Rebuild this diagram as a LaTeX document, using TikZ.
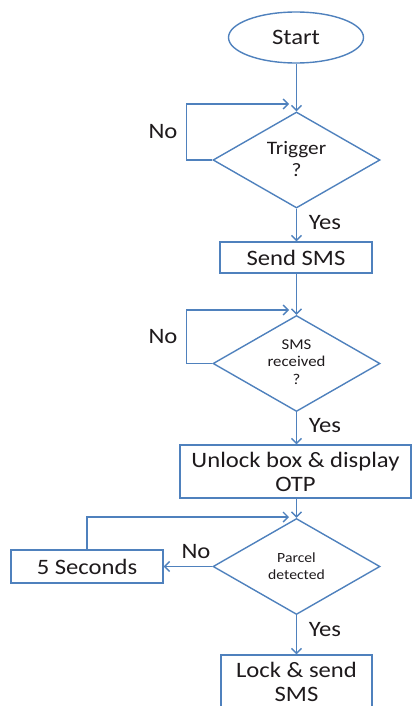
\documentclass[tikz,border=0pt]{standalone}
\usepackage{fontspec}
\setmainfont{Carlito}[FakeStretch=1.12]
\usetikzlibrary{shapes.geometric,arrows.meta}
\definecolor{flowblue}{RGB}{79,129,189}
\definecolor{ink}{RGB}{30,26,28}
\tikzset{
  every node/.style={text=ink},
  term/.style={draw=flowblue,line width=1.4pt,ellipse,minimum width=135pt,minimum height=51pt,inner sep=0pt,
    font=\fontsize{22}{24}\selectfont},
  proc/.style={draw=flowblue,line width=1.4pt,rectangle,inner sep=0pt,align=center,
    font=\fontsize{22}{24}\selectfont},
  dec/.style={draw=flowblue,line width=1.4pt,diamond,minimum width=167pt,minimum height=96pt,inner sep=0pt},
  dtext/.style={align=center,inner sep=0pt},
  lbl/.style={inner sep=0pt,font=\fontsize{22}{24}\selectfont},
  conn/.style={draw=flowblue,line width=1.4pt,-{Straight Barb[length=5pt,width=10pt]}},
}
\begin{document}
\begin{tikzpicture}[x=1pt,y=-1pt]
\useasboundingbox (0,0) rectangle (412,706);
\clip (0,0) rectangle (412,706);

% main column
\node[term] (start) at (296,37.5) {Start};
\node[dec] (d1) at (296.5,160) {};
\node[dtext,font=\fontsize{19}{22}\selectfont] (t1) at (296.5,159) {Trigger\\?};
\node[proc,minimum width=152pt,minimum height=31pt] (sms) at (296,257.5) {Send SMS};
\node[dec] (d2) at (296.5,363.5) {};
\node[dtext,font=\fontsize{15}{17.5}\selectfont] (t2) at (296.5,362) {SMS\\received\\?};
\node[proc,minimum width=231pt,minimum height=53pt] (unlock) at (295.5,471.5) {Unlock box \& display\\OTP};
\node[dec] (d3) at (296.5,566.5) {};
\node[dtext,font=\fontsize{14}{17}\selectfont] (t3) at (296.5,566) {Parcel\\detected};
\node[proc,minimum width=152pt,minimum height=33pt] (wait) at (87,566.5) {5 Seconds};
\node[proc,minimum width=151pt,minimum height=54pt] (lock) at (296.5,682) {Lock \& send\\SMS};

% loop targets just left of the main line
\coordinate (m1) at (289,104);
\coordinate (m2) at (289,310);
\coordinate (m3) at (289,517);

% forward flow
\draw[conn] (start.south -| d1.north) -- (d1.north);
\draw[conn] (d1.south) -- (d1.south |- sms.north);
\draw[conn] (sms.south -| d2.north) -- (d2.north);
\draw[conn] (d2.south) -- (d2.south |- unlock.north);
\draw[conn] (unlock.south -| d3.north) -- (d3.north);
\draw[conn] (d3.south) -- (lock.north);
\draw[conn] (d3.west) -- (wait.east);

% retry loops
\draw[conn] (d1.west) -- ++(-26,0) |- (m1);
\draw[conn] (d2.west) -- ++(-26,0) |- (m2);
\draw[conn] (wait.north) |- (m3);

% branch labels
\node[lbl] (no1) at (163,132) {No};
\node[lbl] (no2) at (163,337) {No};
\node[lbl] (no3) at (196,552) {No};
\node[lbl] (yes1) at (325,223) {Yes};
\node[lbl] (yes2) at (325,426) {Yes};
\node[lbl] (yes3) at (325,630) {Yes};
\end{tikzpicture}
\end{document}
